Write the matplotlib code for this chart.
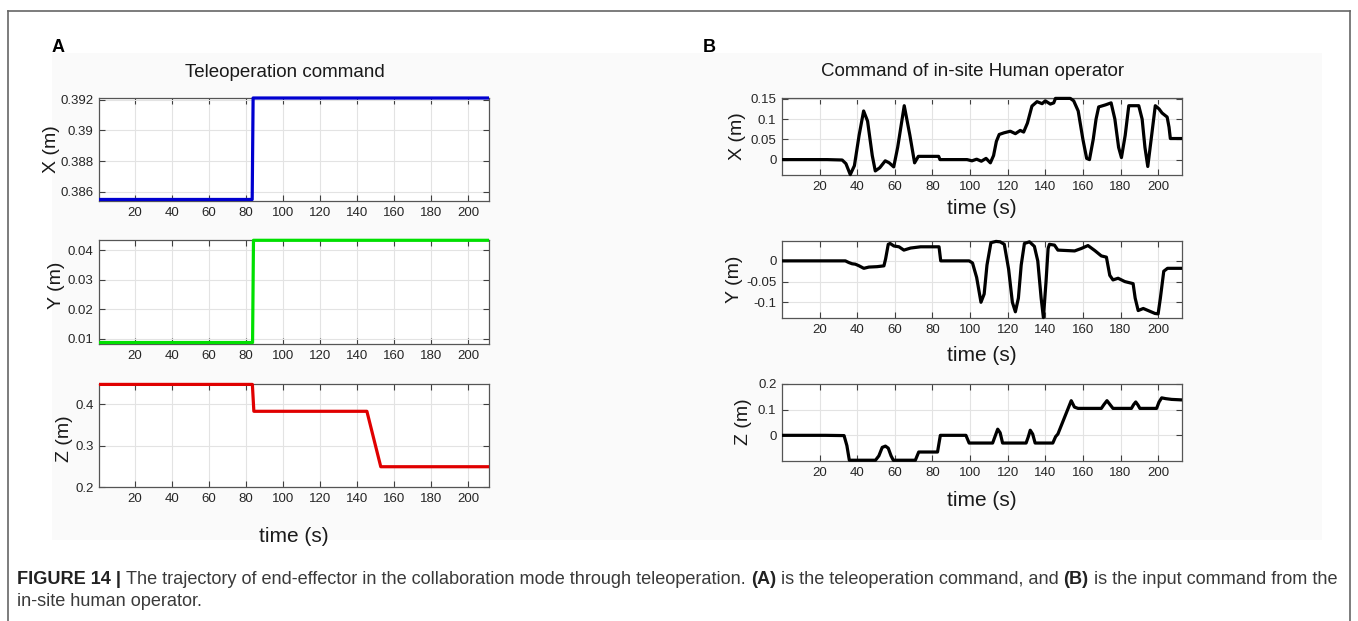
import matplotlib
matplotlib.use("Agg")
import matplotlib.pyplot as plt
from matplotlib.transforms import IdentityTransform
from matplotlib.patches import Rectangle
from matplotlib.lines import Line2D

plt.rcParams["font.family"] = ["Liberation Sans", "DejaVu Sans"]

# (A) teleoperation command
tele_x_t = [0.5, 83.3, 83.8, 211.3]
tele_x = [0.3855, 0.3855, 0.3921, 0.3921]
tele_y_t = [0.5, 83.5, 84.0, 211.3]
tele_y = [0.0088, 0.0088, 0.0433, 0.0433]
tele_z_t = [0.5, 83.4, 84.2, 145.3, 152.8, 211.3]
tele_z = [0.448, 0.448, 0.383, 0.383, 0.249, 0.249]

# (B) in-site human operator command
hum_x_t = [0, 24, 32, 34, 36.3, 38.5, 41, 43.4, 45.5, 48, 49.6, 52, 54.9, 57, 59.4,
           61.5, 65.0, 68, 70.5, 72.5, 83.3, 84, 98.4, 101, 103.5, 106, 108.5, 110.8,
           112.5, 114, 115.5, 118, 121.4, 124.1, 126.7, 128.5, 130.5, 132.9, 135.6,
           138.3, 140, 142.7, 144.5, 145.4, 153.3, 155.1, 157.5, 160, 162, 163.5,
           165.5, 167, 168.4, 172, 175, 177, 179, 180.5, 182.5, 184.4, 189.7, 191.5,
           193, 194.5, 196.3, 198.5, 200.5, 202.1, 204.8, 205.8, 206.5, 212.7]
hum_x = [0, 0, -0.001, -0.01, -0.037, -0.015, 0.06, 0.12, 0.095, 0.01, -0.028, -0.02,
         -0.003, -0.008, -0.018, 0.03, 0.133, 0.06, -0.008, 0.008, 0.008, 0.0, 0.0,
         -0.003, 0.001, -0.004, 0.003, -0.008, 0.01, 0.045, 0.062, 0.066, 0.07, 0.064,
         0.072, 0.068, 0.09, 0.132, 0.143, 0.138, 0.145, 0.137, 0.14, 0.151, 0.151,
         0.145, 0.12, 0.05, 0.003, 0.0, 0.05, 0.1, 0.13, 0.135, 0.14, 0.1, 0.03, 0.005,
         0.06, 0.133, 0.133, 0.1, 0.03, -0.017, 0.05, 0.133, 0.125, 0.115, 0.105, 0.08,
         0.052, 0.052]

hum_y_t = [0, 33.7, 35.5, 37.3, 39.0, 41, 43.5, 46.2, 50.6, 54.2, 55.1, 56.5, 57.5,
           59.5, 62.2, 64.8, 68.4, 73.7, 83.5, 84.4, 99.5, 101.3, 103.5, 105.8, 107.5,
           109, 111.1, 113.8, 116, 118.2, 120.5, 122.5, 124.1, 125.7, 127.2, 128.9,
           131.6, 134.2, 136, 137.8, 139.0, 140.4, 141.5, 142.2, 144.9, 146.7, 155.6,
           159.2, 162.7, 166.3, 169.8, 172.5, 174.3, 176.0, 178.7, 182.3, 186.7, 187.8,
           189.4, 192.1, 194.7, 198.3, 200.0, 201.2, 203.0, 205, 212.7]
hum_y = [0, 0, -0.004, -0.007, -0.008, -0.012, -0.018, -0.015, -0.014, -0.012, 0.005,
         0.04, 0.042, 0.036, 0.034, 0.026, 0.031, 0.034, 0.034, 0.0, 0.0, -0.005, -0.04,
         -0.1, -0.08, -0.01, 0.044, 0.047, 0.046, 0.04, -0.02, -0.1, -0.123, -0.09,
         -0.01, 0.042, 0.046, 0.035, 0.0, -0.09, -0.137, -0.05, 0.03, 0.04, 0.038,
         0.026, 0.024, 0.03, 0.037, 0.025, 0.012, 0.009, -0.035, -0.046, -0.042, -0.05,
         -0.055, -0.09, -0.12, -0.115, -0.12, -0.127, -0.128, -0.09, -0.025, -0.018,
         -0.018]

hum_z_t = [0, 23, 33, 34.5, 35.8, 49.7, 51.5, 53.3, 55, 56.5, 58, 59.2, 70.9, 72.7,
           82.7, 84.2, 97.8, 99.5, 112, 113.5, 114.7, 116, 117.3, 129.8, 131, 132,
           133.3, 134.6, 144, 145.5, 146.7, 153.8, 155.5, 157.4, 169.8, 171.2, 172.8,
           174.4, 176, 185.8, 187, 188.1, 189.3, 190.3, 199.2, 200.5, 201.9, 204,
           207.2, 212.7]
hum_z = [0, 0, -0.001, -0.04, -0.097, -0.097, -0.08, -0.047, -0.042, -0.05, -0.08,
         -0.097, -0.097, -0.065, -0.065, 0.0, 0.0, -0.03, -0.03, 0.0, 0.024, 0.01,
         -0.03, -0.03, -0.005, 0.02, 0.005, -0.03, -0.03, -0.005, 0.005, 0.135, 0.11,
         0.105, 0.105, 0.12, 0.135, 0.12, 0.105, 0.105, 0.12, 0.13, 0.118, 0.105,
         0.105, 0.13, 0.146, 0.143, 0.14, 0.138]

time_ticks = [20, 40, 60, 80, 100, 120, 140, 160, 180, 200]

W, H = 1358, 621
fig = plt.figure(figsize=(W / 100, H / 100), dpi=100)
fig.patch.set_facecolor("white")


def px_axes(left, top, right, bottom):
    return fig.add_axes([left / W, 1 - bottom / H, (right - left) / W, (bottom - top) / H])


def style(ax, xlim, ylim, yticks, yticklabels, ylabel, ylab_pos, xlab_y=None):
    ax.set_xlim(*xlim)
    ax.set_ylim(*ylim)
    ax.set_xticks(time_ticks)
    ax.set_yticks(yticks)
    ax.set_yticklabels(yticklabels)
    ax.grid(True, color="#e3e3e3", linewidth=0.8)
    ax.set_axisbelow(True)
    ax.tick_params(direction="in", length=4, width=0.8, top=True, right=True,
                   colors="#404040", labelsize=9.5, labelcolor="#262626", pad=4)
    for s in ax.spines.values():
        s.set_color("#555555")
        s.set_linewidth(0.9)
    ax.set_ylabel(ylabel, fontsize=14, color="#1a1a1a", va="center")
    ax.yaxis.set_label_coords(*ylab_pos)
    if xlab_y is not None:
        ax.set_xlabel("time (s)", fontsize=15, color="#1a1a1a", va="center")
        ax.xaxis.set_label_coords(0.5, xlab_y)


def trace(ax, t, v, color):
    ax.plot(t, v, color=color, lw=2.3, solid_joinstyle="round", solid_capstyle="butt",
            clip_on=False, zorder=3)


# faint backdrop behind both panels
fig.patches.append(Rectangle((52 / W, 1 - 540 / H), (1322 - 52) / W, (540 - 53) / H,
                             transform=fig.transFigure, facecolor="#fafafa",
                             edgecolor="none", zorder=-10))

# panel A
a_xlim = (0.5, 211.3)
ax = px_axes(99, 98, 489, 201)
trace(ax, tele_x_t, tele_x, "#0000d0")
style(ax, a_xlim, (0.3854, 0.3921), [0.386, 0.388, 0.39, 0.392],
      ["0.386", "0.388", "0.39", "0.392"], "X (m)", (-0.122, 0.5))
ax.set_title("Teleoperation command", fontsize=13.5, color="#1a1a1a", pad=0,
             x=0.477, y=1.25, va="center")

ax = px_axes(99, 240, 489, 344)
trace(ax, tele_y_t, tele_y, "#00e000")
style(ax, a_xlim, (0.0083, 0.0434), [0.01, 0.02, 0.03, 0.04],
      ["0.01", "0.02", "0.03", "0.04"], "Y (m)", (-0.108, 0.56))

ax = px_axes(99, 384, 489, 487)
trace(ax, tele_z_t, tele_z, "#e00000")
style(ax, a_xlim, (0.2, 0.449), [0.2, 0.3, 0.4], ["0.2", "0.3", "0.4"], "Z (m)",
      (-0.088, 0.47), -0.485)

# panel B
b_xlim = (0, 212.7)
ax = px_axes(782, 98, 1182, 175)
trace(ax, hum_x_t, hum_x, "black")
style(ax, b_xlim, (-0.038, 0.152), [0, 0.05, 0.1, 0.15], ["0", "0.05", "0.1", "0.15"],
      "X (m)", (-0.11, 0.5), -0.43)
ax.set_title("Command of in-site Human operator", fontsize=13.5, color="#1a1a1a",
             pad=0, x=0.477, y=1.34, va="center")

ax = px_axes(782, 241, 1182, 318)
trace(ax, hum_y_t, hum_y, "black")
style(ax, b_xlim, (-0.138, 0.048), [-0.1, -0.05, 0], ["-0.1", "-0.05", "0"],
      "Y (m)", (-0.118, 0.5), -0.481)

ax = px_axes(782, 384, 1182, 461)
trace(ax, hum_z_t, hum_z, "black")
style(ax, b_xlim, (-0.1, 0.2), [0, 0.1, 0.2], ["0", "0.1", "0.2"], "Z (m)",
      (-0.095, 0.51), -0.51)

# panel letters
fig.text(52 / W, 1 - 47 / H, "A", fontsize=13, fontweight="bold", va="center")
fig.text(703 / W, 1 - 47 / H, "B", fontsize=13, fontweight="bold", va="center")

# outer frame
for xs, ys in [((8, 8), (11, H)), ((8, 1350), (11, 11)), ((1350, 1350), (11, H))]:
    fig.lines.append(Line2D([x / W for x in xs], [1 - y / H for y in ys],
                            transform=fig.transFigure, color="#666666", lw=1.2))

# caption, drawn run by run so bold and regular parts share a line
renderer = fig.canvas.get_renderer()


def caption_line(x, y, runs, size=13.1):
    for txt, weight, col in runs:
        t = fig.text(x, H - y, txt, transform=IdentityTransform(), fontsize=size,
                     fontweight=weight, color=col, va="baseline")
        x += t.get_window_extent(renderer).width


dark = "#222222"
grey = "#3a3a3a"
caption_line(17, 584, [
    ("FIGURE 14 | ", "bold", dark),
    ("The trajectory of end-effector in the collaboration mode through teleoperation. ",
     "normal", grey),
    ("(A)", "bold", dark),
    (" is the teleoperation command, and ", "normal", grey),
    ("(B)", "bold", dark),
    (" is the input command from the", "normal", grey),
])
caption_line(17, 606, [("in-site human operator.", "normal", grey)])

fig.savefig("out.png", dpi=100)
